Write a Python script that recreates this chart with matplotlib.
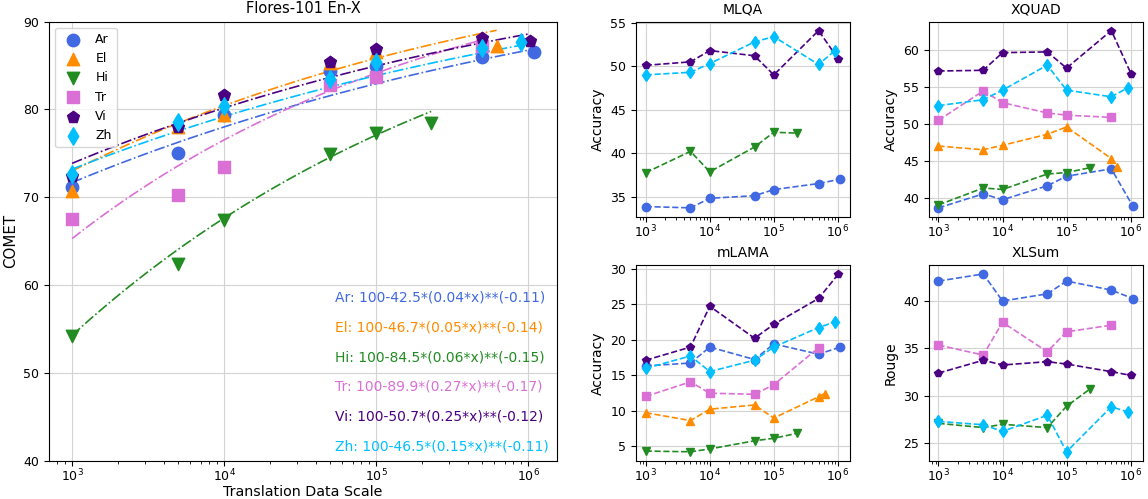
import numpy as np
import matplotlib
matplotlib.use("Agg")
import matplotlib.pyplot as plt

langs = ["Ar", "El", "Hi", "Tr", "Vi", "Zh"]
colors = ["royalblue", "darkorange", "forestgreen", "orchid", "indigo", "deepskyblue"]
markers = ["o", "^", "v", "s", "p", "d"]

# data sizes used for each language
x_ar = [1e3, 5e3, 1e4, 5e4, 1e5, 5e5, 1.09e6]
x_el = [1e3, 5e3, 1e4, 5e4, 1e5, 5e5, 6.2e5]
x_hi = [1e3, 5e3, 1e4, 5e4, 1e5, 2.3e5]
x_tr = [1e3, 5e3, 1e4, 5e4, 1e5, 5e5]
x_vi = [1e3, 5e3, 1e4, 5e4, 1e5, 5e5, 1.02e6]
x_zh = [1e3, 5e3, 1e4, 5e4, 1e5, 5e5, 9e5]
xs = [x_ar, x_el, x_hi, x_tr, x_vi, x_zh]

# Flores-101 En-X (COMET)
flores_ar = [71.2, 75.0, 79.4, 84.4, 85.0, 86.0, 86.6]
flores_el = [70.7, 78.0, 79.4, 85.3, 86.6, 87.5, 87.2]
flores_hi = [54.2, 62.4, 67.4, 74.9, 77.3, 78.5]
flores_tr = [67.5, 70.3, 73.5, 82.8, 83.7, 87.2]
flores_vi = [72.4, 78.0, 81.7, 85.4, 86.9, 88.1, 87.8]
flores_zh = [72.7, 78.6, 80.4, 83.5, 85.4, 87.0, 87.7]
flores = [flores_ar, flores_el, flores_hi, flores_tr, flores_vi, flores_zh]

# fitted power law: 100 - a*(b*x)**(-c)
fit_a = [42.5, 46.7, 84.5, 89.9, 50.7, 46.5]
fit_b = [0.04, 0.05, 0.06, 0.27, 0.25, 0.15]
fit_c = [0.11, 0.14, 0.15, 0.17, 0.12, 0.11]

# MLQA
mlqa_ar = [33.85, 33.7, 34.8, 35.1, 35.8, 36.5, 37.0]
mlqa_hi = [37.75, 40.2, 37.85, 40.7, 42.4, 42.3]
mlqa_vi = [50.1, 50.5, 51.8, 51.2, 49.0, 54.1, 50.8]
mlqa_zh = [49.0, 49.3, 50.3, 52.8, 53.4, 50.2, 51.8]
mlqa = [mlqa_ar, None, mlqa_hi, None, mlqa_vi, mlqa_zh]

# XQUAD
xquad_ar = [38.6, 40.5, 39.7, 41.6, 42.9, 43.9, 38.8]
xquad_el = [47.0, 46.5, 47.1, 48.6, 49.6, 45.3, 44.1]
xquad_hi = [39.0, 41.3, 41.1, 43.2, 43.4, 44.05]
xquad_tr = [50.5, 54.5, 52.9, 51.5, 51.2, 50.9]
xquad_vi = [57.2, 57.3, 59.7, 59.8, 57.6, 62.7, 56.8]
xquad_zh = [52.5, 53.3, 54.6, 58.0, 54.6, 53.7, 54.9]
xquad = [xquad_ar, xquad_el, xquad_hi, xquad_tr, xquad_vi, xquad_zh]

# mLAMA
mlama_ar = [16.3, 16.7, 18.95, 17.2, 19.4, 17.95, 18.95]
mlama_el = [9.7, 8.6, 10.2, 10.8, 8.95, 11.95, 12.4]
mlama_hi = [4.3, 4.2, 4.6, 5.75, 6.1, 6.8]
mlama_tr = [12.0, 14.05, 12.45, 12.3, 13.65, 18.85]
mlama_vi = [17.1, 18.95, 24.7, 20.2, 22.15, 25.8, 29.25]
mlama_zh = [15.95, 17.7, 15.5, 17.1, 18.95, 21.7, 22.5]
mlama = [mlama_ar, mlama_el, mlama_hi, mlama_tr, mlama_vi, mlama_zh]

# XLSum
xlsum_ar = [42.1, 42.85, 40.0, 40.75, 42.1, 41.15, 40.25]
xlsum_hi = [27.1, 26.65, 27.0, 26.65, 28.9, 30.7]
xlsum_tr = [35.35, 34.3, 37.75, 34.65, 36.75, 37.45]
xlsum_vi = [32.4, 33.75, 33.25, 33.6, 33.35, 32.55, 32.15]
xlsum_zh = [27.3, 26.95, 26.25, 27.95, 24.1, 28.85, 28.3]
xlsum = [xlsum_ar, None, xlsum_hi, xlsum_tr, xlsum_vi, xlsum_zh]

plt.rcParams["font.family"] = "DejaVu Sans"
plt.rcParams["xtick.labelsize"] = 9
plt.rcParams["ytick.labelsize"] = 9
plt.rcParams["xtick.major.pad"] = 1.5
fig = plt.figure(figsize=(11.48, 4.99), dpi=100)

# big panel
ax = fig.add_axes([0.0427, 0.0768, 0.4425, 0.8798])
for i, lang in enumerate(langs):
    ax.scatter(xs[i], flores[i], s=80, marker=markers[i], color=colors[i],
               label=lang, zorder=3)
    xx = np.logspace(np.log10(xs[i][0]), np.log10(xs[i][-1]), 100)
    yy = 100 - fit_a[i] * (fit_b[i] * xx) ** (-fit_c[i])
    ax.plot(xx, yy, "-.", color=colors[i], lw=1.2, zorder=2)
    ax.text(0.563, 0.372 - i * 0.068,
            f"{lang}: 100-{fit_a[i]}*({fit_b[i]}*x)**(-{fit_c[i]})",
            color=colors[i], fontsize=10, transform=ax.transAxes, va="center")
ax.set_xscale("log")
ax.set_ylim(40, 90)
ax.set_title("Flores-101 En-X", fontsize=10.5)
ax.set_xlabel("Translation Data Scale", fontsize=10.3, labelpad=0.5)
ax.set_ylabel("COMET", fontsize=10.8)
ax.grid(True, color="lightgray")
ax.set_axisbelow(True)
ax.legend(loc="upper left", fontsize=9)

panels = [
    ("MLQA", mlqa, "Accuracy", [0.554, 0.5657, 0.1864, 0.3908]),
    ("XQUAD", xquad, "Accuracy", [0.809, 0.5657, 0.1864, 0.3908]),
    ("mLAMA", mlama, "Accuracy", [0.554, 0.0768, 0.1864, 0.3920]),
    ("XLSum", xlsum, "Rouge", [0.809, 0.0768, 0.1864, 0.3920]),
]
for title, data, ylab, pos in panels:
    a = fig.add_axes(pos)
    for i in range(len(langs)):
        if data[i] is None:
            continue
        a.plot(xs[i], data[i], "--", marker=markers[i], color=colors[i],
               markersize=6, lw=1.2)
    a.set_xscale("log")
    a.set_title(title, fontsize=10)
    a.set_ylabel(ylab, fontsize=10)
    a.grid(True, color="lightgray")
    a.set_axisbelow(True)

fig.savefig("out.png", dpi=100)
